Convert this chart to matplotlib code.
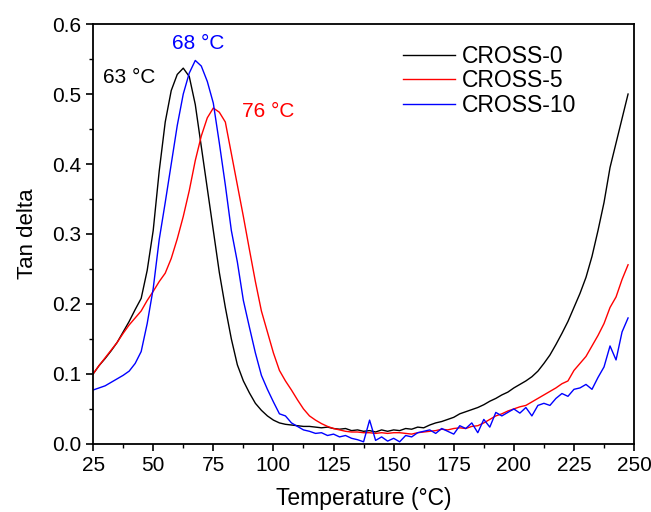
import numpy as np
import matplotlib
matplotlib.use("Agg")
import matplotlib.pyplot as plt
from matplotlib.ticker import MultipleLocator, FormatStrFormatter

plt.rcParams['font.family'] = ['Liberation Sans', 'DejaVu Sans']

temperature = np.arange(25, 247.6, 2.5)

cross0 = [0.100, 0.112, 0.122, 0.133, 0.145, 0.160, 0.175, 0.192, 0.208, 0.248,
          0.305, 0.390, 0.460, 0.505, 0.528, 0.537, 0.525, 0.485, 0.425, 0.365,
          0.305, 0.245, 0.195, 0.150, 0.113, 0.090, 0.073, 0.058, 0.048, 0.040,
          0.034, 0.030, 0.028, 0.027, 0.026, 0.025, 0.025, 0.024, 0.023, 0.024,
          0.022, 0.021, 0.022, 0.019, 0.020, 0.018, 0.019, 0.017, 0.020, 0.018,
          0.020, 0.019, 0.022, 0.021, 0.024, 0.023, 0.027, 0.030, 0.032, 0.035,
          0.038, 0.043, 0.046, 0.049, 0.052, 0.056, 0.061, 0.065, 0.070, 0.074,
          0.080, 0.085, 0.090, 0.096, 0.104, 0.115, 0.127, 0.142, 0.158, 0.175,
          0.195, 0.215, 0.238, 0.268, 0.305, 0.345, 0.395, 0.430, 0.465, 0.500]

cross5 = [0.100, 0.112, 0.123, 0.134, 0.145, 0.158, 0.170, 0.180, 0.190, 0.205,
          0.218, 0.232, 0.244, 0.265, 0.293, 0.325, 0.362, 0.405, 0.440, 0.466,
          0.480, 0.474, 0.460, 0.415, 0.370, 0.325, 0.278, 0.232, 0.190, 0.160,
          0.130, 0.105, 0.090, 0.077, 0.063, 0.050, 0.040, 0.034, 0.029, 0.025,
          0.022, 0.020, 0.018, 0.017, 0.017, 0.016, 0.016, 0.015, 0.016, 0.015,
          0.016, 0.016, 0.015, 0.014, 0.016, 0.017, 0.018, 0.019, 0.021, 0.020,
          0.022, 0.023, 0.022, 0.025, 0.026, 0.030, 0.035, 0.040, 0.043, 0.047,
          0.050, 0.053, 0.055, 0.060, 0.065, 0.070, 0.075, 0.080, 0.086, 0.090,
          0.105, 0.115, 0.125, 0.140, 0.155, 0.172, 0.195, 0.210, 0.235, 0.256]

cross10 = [0.077, 0.080, 0.083, 0.088, 0.093, 0.098, 0.104, 0.115, 0.132, 0.172,
           0.222, 0.292, 0.345, 0.400, 0.455, 0.500, 0.530, 0.548, 0.540, 0.518,
           0.487, 0.430, 0.370, 0.305, 0.260, 0.205, 0.167, 0.130, 0.098, 0.078,
           0.060, 0.043, 0.040, 0.030, 0.025, 0.020, 0.018, 0.015, 0.016, 0.012,
           0.014, 0.010, 0.012, 0.008, 0.006, 0.003, 0.034, 0.005, 0.010, 0.004,
           0.008, 0.003, 0.012, 0.010, 0.016, 0.018, 0.020, 0.015, 0.022, 0.018,
           0.014, 0.026, 0.022, 0.030, 0.016, 0.035, 0.024, 0.045, 0.040, 0.045,
           0.050, 0.044, 0.052, 0.040, 0.055, 0.058, 0.055, 0.065, 0.072, 0.068,
           0.078, 0.080, 0.085, 0.078, 0.095, 0.110, 0.140, 0.120, 0.160, 0.180]

series_names = ["CROSS-0", "CROSS-5", "CROSS-10"]
series_colors = ["black", "red", "blue"]
peak_labels = ["63 °C", "76 °C", "68 °C"]

fig = plt.figure(figsize=(6.51, 5.12), dpi=100)
ax = fig.add_axes([0.143, 0.133, 0.831, 0.820])

for vals, name, col in zip([cross0, cross5, cross10], series_names, series_colors):
    ax.plot(temperature, vals, color=col, lw=1.0, label=name)

ax.text(40, 0.524, peak_labels[0], color="black", fontsize=15, ha="center", va="center")
ax.text(98, 0.475, peak_labels[1], color="red", fontsize=15, ha="center", va="center")
ax.text(68.6, 0.572, peak_labels[2], color="blue", fontsize=15, ha="center", va="center")

ax.set_xlim(25, 250)
ax.set_ylim(0, 0.6)
ax.xaxis.set_major_locator(MultipleLocator(25))
ax.xaxis.set_minor_locator(MultipleLocator(12.5))
ax.yaxis.set_major_locator(MultipleLocator(0.1))
ax.yaxis.set_minor_locator(MultipleLocator(0.05))
ax.yaxis.set_major_formatter(FormatStrFormatter('%.1f'))
ax.tick_params(which="major", direction="out", length=5, width=1.2, labelsize=15,
               top=False, right=False)
ax.tick_params(which="minor", direction="out", length=3, width=1.0,
               top=False, right=False)
for sp in ax.spines.values():
    sp.set_linewidth(1.3)

ax.set_xlabel("Temperature (°C)", fontsize=16.5, labelpad=9)
ax.set_ylabel("Tan delta", fontsize=16, labelpad=10)

leg = ax.legend(loc="upper left", frameon=False, fontsize=16.5, handlelength=2.27,
                handletextpad=0.3, labelspacing=0.07, borderpad=0.4,
                bbox_to_anchor=(0.534, 1.0))

fig.savefig("out.png", dpi=100)
